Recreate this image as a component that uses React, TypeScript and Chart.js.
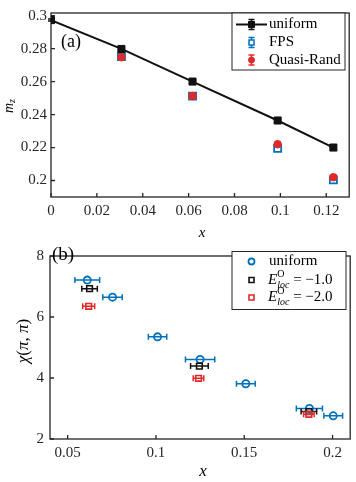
import React, { useEffect, useRef } from 'react';
import { Chart, registerables } from 'chart.js';
Chart.register(...registerables);

// ---------- Panel (a) data ----------
const topUniformX = [0, 0.0307, 0.0617, 0.0988, 0.1231];
const topUniformMz = [0.2973, 0.2798, 0.26, 0.2364, 0.22];
const topUniformErr = [0.0006, 0.0006, 0.0006, 0.0006, 0.0006];
const topFpsX = [0.0307, 0.0617, 0.0988, 0.1231];
const topFpsMz = [0.2752, 0.2512, 0.2195, 0.2004];
const topFpsErr = [0.0008, 0.0008, 0.0008, 0.0008];
const topQuasiX = [0.0307, 0.0617, 0.0988, 0.1231];
const topQuasiMz = [0.2748, 0.2512, 0.222, 0.202];
const topQuasiErr = [0.0008, 0.0008, 0.0008, 0.0008];
const topXTicks = [0, 0.02, 0.04, 0.06, 0.08, 0.1, 0.12];
const topXLabels = ['0', '0.02', '0.04', '0.06', '0.08', '0.1', '0.12'];
const topYTicks = [0.2, 0.22, 0.24, 0.26, 0.28, 0.3];
const topYLabels = ['0.2', '0.22', '0.24', '0.26', '0.28', '0.3'];
const topLegend = ['uniform', 'FPS', 'Quasi-Rand'];

// ---------- Panel (b) data ----------
const botUniformX = [0.0611, 0.0754, 0.1009, 0.125, 0.1509, 0.1869, 0.2004];
const botUniformChi = [7.21, 6.65, 5.35, 4.61, 3.81, 3.0, 2.76];
const botUniformXErr = [0.007, 0.0055, 0.0052, 0.0083, 0.0053, 0.0074, 0.0053];
const botE1X = [0.0624, 0.1246, 0.1866];
const botE1Chi = [6.93, 4.39, 2.9];
const botE1XErr = [0.0044, 0.005, 0.0044];
const botE2X = [0.0619, 0.1241, 0.1866];
const botE2Chi = [6.35, 3.99, 2.81];
const botE2XErr = [0.0034, 0.003, 0.003];
const botXTicks = [0.05, 0.1, 0.15, 0.2];
const botXLabels = ['0.05', '0.1', '0.15', '0.2'];
const botYTicks = [2, 4, 6, 8];
const botYLabels = ['2', '4', '6', '8'];
const botLegendValues = ['−1.0', '−2.0'];

const BLUE = '#0072BD';
const RED = '#E02A2A';
const BLACK = '#111111';
const FRAME = '#262626';
const SERIF = '"Liberation Serif", "DejaVu Serif", serif';

type Seg = { text: string; font: string; dy?: number; noAdvance?: boolean };

function drawRich(ctx: CanvasRenderingContext2D, segs: Seg[], x: number, y: number, align: 'left' | 'center') {
  let total = 0;
  for (const s of segs) {
    ctx.font = s.font;
    if (!s.noAdvance) total += ctx.measureText(s.text).width;
  }
  let cx = align === 'center' ? x - total / 2 : x;
  ctx.textBaseline = 'middle';
  ctx.textAlign = 'left';
  for (const s of segs) {
    ctx.font = s.font;
    ctx.fillText(s.text, cx, y + (s.dy || 0));
    if (!s.noAdvance) cx += ctx.measureText(s.text).width;
  }
}

function zip(xs: number[], ys: number[]) {
  return xs.map((x, i) => ({ x, y: ys[i] }));
}

type ErrSpec = { err: number[]; dir: 'x' | 'y'; color: string };

function makeErrPlugin(specs: ErrSpec[]) {
  return {
    id: 'errbars',
    beforeDatasetDraw(chart: any, args: any) {
      const spec = specs[args.index];
      if (!spec) return;
      const ctx = chart.ctx as CanvasRenderingContext2D;
      const xs = chart.scales.x;
      const ys = chart.scales.y;
      const data = chart.data.datasets[args.index].data as { x: number; y: number }[];
      ctx.save();
      ctx.strokeStyle = spec.color;
      ctx.lineWidth = 1.5;
      const cap = 3;
      data.forEach((p, j) => {
        const e = spec.err[j];
        const px = xs.getPixelForValue(p.x);
        const py = ys.getPixelForValue(p.y);
        ctx.beginPath();
        if (spec.dir === 'y') {
          const y1 = ys.getPixelForValue(p.y - e);
          const y2 = ys.getPixelForValue(p.y + e);
          ctx.moveTo(px, y1); ctx.lineTo(px, y2);
          ctx.moveTo(px - cap, y1); ctx.lineTo(px + cap, y1);
          ctx.moveTo(px - cap, y2); ctx.lineTo(px + cap, y2);
        } else {
          const x1 = xs.getPixelForValue(p.x - e);
          const x2 = xs.getPixelForValue(p.x + e);
          ctx.moveTo(x1, py); ctx.lineTo(x2, py);
          ctx.moveTo(x1, py - cap); ctx.lineTo(x1, py + cap);
          ctx.moveTo(x2, py - cap); ctx.lineTo(x2, py + cap);
        }
        ctx.stroke();
      });
      ctx.restore();
    },
  };
}

const framePlugin = {
  id: 'frame',
  beforeDatasetsDraw(chart: any) {
    const ctx = chart.ctx as CanvasRenderingContext2D;
    const a = chart.chartArea;
    ctx.save();
    ctx.strokeStyle = FRAME;
    ctx.lineWidth = 1.3;
    ctx.strokeRect(a.left, a.top, a.right - a.left, a.bottom - a.top);
    ctx.beginPath();
    const tl = 4;
    for (const t of chart.scales.x.ticks) {
      const px = chart.scales.x.getPixelForValue(t.value);
      ctx.moveTo(px, a.bottom); ctx.lineTo(px, a.bottom - tl);
    }
    for (const t of chart.scales.y.ticks) {
      const py = chart.scales.y.getPixelForValue(t.value);
      ctx.moveTo(a.left, py); ctx.lineTo(a.left + tl, py);
    }
    ctx.stroke();
    ctx.restore();
  },
};

function legendMarker(ctx: CanvasRenderingContext2D, x: number, y: number, kind: string, color: string, fill: string, err: 'x' | 'y' | null, r: number, lw: number) {
  ctx.save();
  ctx.strokeStyle = color;
  ctx.lineWidth = 1.5;
  if (err === 'y') {
    ctx.beginPath();
    ctx.moveTo(x, y - 5); ctx.lineTo(x, y + 5);
    ctx.moveTo(x - 3, y - 5); ctx.lineTo(x + 3, y - 5);
    ctx.moveTo(x - 3, y + 5); ctx.lineTo(x + 3, y + 5);
    ctx.stroke();
  }
  ctx.lineWidth = lw;
  ctx.fillStyle = fill;
  ctx.beginPath();
  if (kind === 'rect') {
    ctx.rect(x - r, y - r, 2 * r, 2 * r);
  } else {
    ctx.arc(x, y, r, 0, Math.PI * 2);
  }
  ctx.fill();
  ctx.stroke();
  ctx.restore();
}

const topTextPlugin = {
  id: 'topText',
  afterDraw(chart: any) {
    const ctx = chart.ctx as CanvasRenderingContext2D;
    ctx.save();
    ctx.fillStyle = '#000';
    drawRich(ctx, [{ text: '(a)', font: `18px ${SERIF}` }], 61, 42, 'left');
    drawRich(ctx, [{ text: 'x', font: `italic 15px ${SERIF}` }], 202, 233, 'center');
    ctx.save();
    ctx.translate(9, 106);
    ctx.rotate(-Math.PI / 2);
    drawRich(ctx, [
      { text: 'm', font: `italic 14px ${SERIF}` },
      { text: 'z', font: `italic 10px ${SERIF}`, dy: 3 },
    ], 0, 0, 'center');
    ctx.restore();
    // legend
    ctx.fillStyle = '#fff';
    ctx.fillRect(232, 13, 113, 57);
    ctx.strokeStyle = FRAME;
    ctx.lineWidth = 1;
    ctx.strokeRect(232, 13, 113, 57);
    const rows = [24.5, 42.5, 60];
    const mx = 251.5;
    ctx.strokeStyle = BLACK;
    ctx.lineWidth = 2;
    ctx.beginPath(); ctx.moveTo(236, rows[0]); ctx.lineTo(267, rows[0]); ctx.stroke();
    legendMarker(ctx, mx, rows[0], 'rect', BLACK, BLACK, 'y', 3, 1);
    legendMarker(ctx, mx, rows[1], 'rect', BLUE, '#fff', 'y', 2.5, 1.5);
    legendMarker(ctx, mx, rows[2], 'circle', RED, RED, 'y', 3, 1);
    ctx.fillStyle = '#000';
    topLegend.forEach((t, i) => drawRich(ctx, [{ text: t, font: `15px ${SERIF}` }], 269, rows[i], 'left'));
    ctx.restore();
  },
};

const botTextPlugin = {
  id: 'botText',
  afterDraw(chart: any) {
    const ctx = chart.ctx as CanvasRenderingContext2D;
    ctx.save();
    ctx.fillStyle = '#000';
    drawRich(ctx, [{ text: '(b)', font: `19px ${SERIF}` }], 52, 14, 'left');
    drawRich(ctx, [{ text: 'x', font: `italic 17px ${SERIF}` }], 203, 231, 'center');
    ctx.save();
    ctx.translate(24, 100);
    ctx.rotate(-Math.PI / 2);
    const f = `17px ${SERIF}`;
    const fi = `italic 17px ${SERIF}`;
    drawRich(ctx, [
      { text: 'χ', font: fi },
      { text: '(', font: f },
      { text: 'π', font: fi },
      { text: ', ', font: f },
      { text: 'π', font: fi },
      { text: ')', font: f },
    ], 0, 0, 'center');
    ctx.restore();
    // legend
    ctx.fillStyle = '#fff';
    ctx.fillRect(232, 10.5, 114, 58);
    ctx.strokeStyle = FRAME;
    ctx.lineWidth = 1;
    ctx.strokeRect(232, 10.5, 114, 58);
    const rows = [20.5, 39, 56.5];
    const mx = 251.5;
    legendMarker(ctx, mx, rows[0], 'circle', BLUE, 'rgba(0,0,0,0)', null, 3, 1.8);
    legendMarker(ctx, mx, rows[1], 'rect', BLACK, 'rgba(0,0,0,0)', null, 2.5, 1.6);
    legendMarker(ctx, mx, rows[2], 'rect', RED, 'rgba(0,0,0,0)', null, 2.5, 1.6);
    ctx.fillStyle = '#000';
    drawRich(ctx, [{ text: 'uniform', font: `15px ${SERIF}` }], 269, rows[0], 'left');
    botLegendValues.forEach((v, i) => {
      drawRich(ctx, [
        { text: 'E', font: `italic 15px ${SERIF}` },
        { text: 'O', font: `10px ${SERIF}`, dy: -6, noAdvance: true },
        { text: 'loc', font: `italic 10px ${SERIF}`, dy: 5 },
        { text: ' = ' + v, font: `15px ${SERIF}` },
      ], 268, rows[i + 1], 'left');
    });
    ctx.restore();
  },
};

function axisCommon(ticks: number[], labels: string[], pad: number) {
  return {
    type: 'linear' as const,
    afterBuildTicks: (s: any) => { s.ticks = ticks.map((v) => ({ value: v })); },
    grid: { display: false, drawTicks: false },
    border: { display: false },
    ticks: {
      padding: pad,
      autoSkip: false,
      maxRotation: 0,
      color: '#262626',
      font: { family: SERIF, size: 15 },
      callback: (_v: any, i: number) => labels[i],
    },
  };
}

function TopChart() {
  const ref = useRef<HTMLCanvasElement>(null);
  useEffect(() => {
    const chart = new Chart(ref.current!, {
      type: 'scatter',
      data: {
        datasets: [
          {
            data: zip(topUniformX, topUniformMz), showLine: true, borderColor: BLACK, borderWidth: 2,
            pointStyle: 'rect', pointRadius: 5, pointBackgroundColor: BLACK, pointBorderColor: BLACK, pointBorderWidth: 1, order: 0,
          },
          {
            data: zip(topFpsX, topFpsMz), showLine: false, pointStyle: 'rect', pointRadius: 5,
            pointBackgroundColor: '#ffffff', pointBorderColor: BLUE, pointBorderWidth: 1.8, order: 2,
          },
          {
            data: zip(topQuasiX, topQuasiMz), showLine: false, pointStyle: 'circle', pointRadius: 3.8,
            pointBackgroundColor: RED, pointBorderColor: RED, pointBorderWidth: 1, order: 1,
          },
        ] as any,
      },
      options: {
        responsive: false,
        animation: false,
        devicePixelRatio: 1,
        layout: { padding: { left: 0, top: 5, right: 3, bottom: 0 } },
        plugins: { legend: { display: false }, tooltip: { enabled: false } },
        scales: {
          x: { ...axisCommon(topXTicks, topXLabels, 5), min: 0, max: 0.13, afterFit: (s: any) => { s.height = 44; } },
          y: { ...axisCommon(topYTicks, topYLabels, 4), min: 0.19, max: 0.3016, afterFit: (s: any) => { s.width = 51; } },
        } as any,
      },
      plugins: [
        framePlugin,
        makeErrPlugin([
          { err: topUniformErr, dir: 'y', color: BLACK },
          { err: topFpsErr, dir: 'y', color: BLUE },
          { err: topQuasiErr, dir: 'y', color: RED },
        ]),
        topTextPlugin,
      ],
    });
    return () => chart.destroy();
  }, []);
  return <canvas ref={ref} width={356} height={241} style={{ display: 'block' }} />;
}

function BottomChart() {
  const ref = useRef<HTMLCanvasElement>(null);
  useEffect(() => {
    const chart = new Chart(ref.current!, {
      type: 'scatter',
      data: {
        datasets: [
          {
            data: zip(botUniformX, botUniformChi), showLine: false, pointStyle: 'circle', pointRadius: 3.6,
            pointBackgroundColor: 'rgba(0,0,0,0)', pointBorderColor: BLUE, pointBorderWidth: 1.8, order: 2,
          },
          {
            data: zip(botE1X, botE1Chi), showLine: false, pointStyle: 'rect', pointRadius: 4,
            pointBackgroundColor: 'rgba(0,0,0,0)', pointBorderColor: BLACK, pointBorderWidth: 1.6, order: 1,
          },
          {
            data: zip(botE2X, botE2Chi), showLine: false, pointStyle: 'rect', pointRadius: 4,
            pointBackgroundColor: 'rgba(0,0,0,0)', pointBorderColor: RED, pointBorderWidth: 1.6, order: 0,
          },
        ] as any,
      },
      options: {
        responsive: false,
        animation: false,
        devicePixelRatio: 1,
        layout: { padding: { left: 0, top: 3, right: 2, bottom: 0 } },
        plugins: { legend: { display: false }, tooltip: { enabled: false } },
        scales: {
          x: { ...axisCommon(botXTicks, botXLabels, 5), min: 0.04, max: 0.21, afterFit: (s: any) => { s.height = 43; } },
          y: { ...axisCommon(botYTicks, botYLabels, 6), min: 2, max: 8, afterFit: (s: any) => { s.width = 50; } },
        } as any,
      },
      plugins: [
        framePlugin,
        makeErrPlugin([
          { err: botUniformXErr, dir: 'x', color: BLUE },
          { err: botE1XErr, dir: 'x', color: BLACK },
          { err: botE2XErr, dir: 'x', color: RED },
        ]),
        botTextPlugin,
      ],
    });
    return () => chart.destroy();
  }, []);
  return <canvas ref={ref} width={356} height={241} style={{ display: 'block' }} />;
}

export default function App() {
  return (
    <div style={{ position: 'absolute', left: 0, top: 0, width: 356, height: 482, background: '#fff' }}>
      <TopChart />
      <BottomChart />
    </div>
  );
}
